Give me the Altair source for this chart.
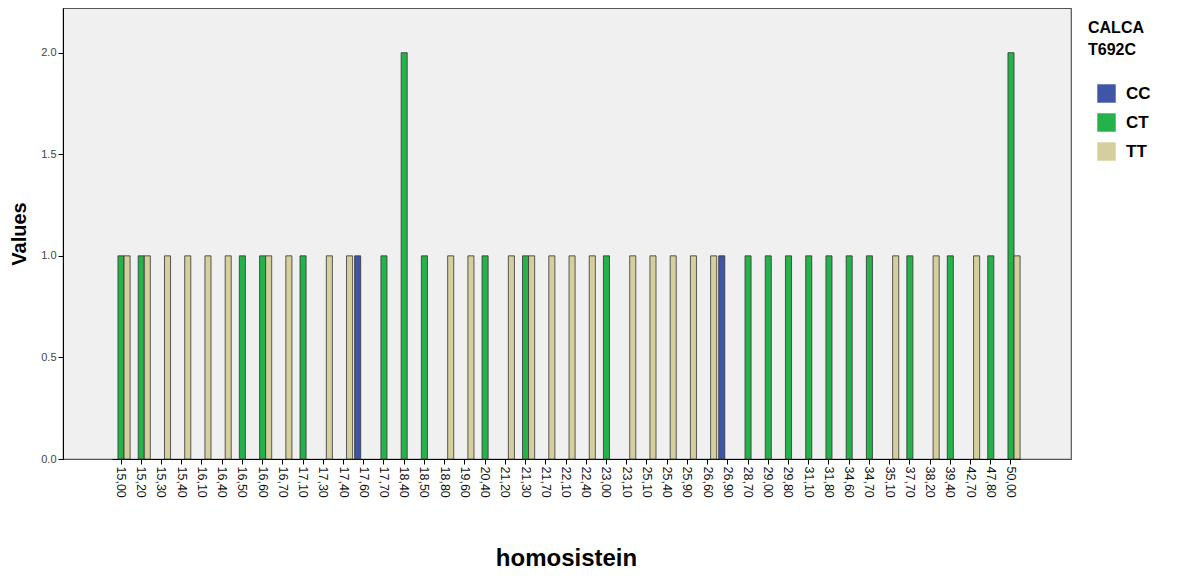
import altair as alt
import pandas as pd

categories = ["15,00", "15,20", "15,30", "15,40", "16,10", "16,40", "16,50", "16,60", "16,70",
              "17,10", "17,30", "17,40", "17,60", "17,70", "18,40", "18,50", "18,80", "19,60",
              "20,40", "21,20", "21,30", "21,70", "22,10", "22,40", "23,00", "23,10", "25,10",
              "25,40", "25,90", "26,60", "26,90", "28,70", "29,00", "29,80", "31,10", "31,80",
              "34,60", "34,70", "35,10", "37,70", "38,20", "39,40", "42,70", "47,80", "50,00"]
cc_vals = [0, 0, 0, 0, 0, 0, 0, 0, 0, 0, 0, 0, 1, 0, 0, 0, 0, 0, 0, 0, 0, 0, 0, 0, 0, 0, 0,
           0, 0, 0, 1, 0, 0, 0, 0, 0, 0, 0, 0, 0, 0, 0, 0, 0, 0]
ct_vals = [1, 1, 0, 0, 0, 0, 1, 1, 0, 1, 0, 0, 0, 1, 2, 1, 0, 0, 1, 0, 1, 0, 0, 0, 1, 0, 0,
           0, 0, 0, 0, 1, 1, 1, 1, 1, 1, 1, 0, 1, 0, 1, 0, 1, 2]
tt_vals = [1, 1, 1, 1, 1, 1, 0, 1, 1, 0, 1, 1, 0, 0, 0, 0, 1, 1, 0, 1, 1, 1, 1, 1, 0, 1, 1,
           1, 1, 1, 0, 0, 0, 0, 0, 0, 0, 0, 1, 0, 1, 0, 1, 0, 1]
groups = ["CC", "CT", "TT"]
colors = ["#3f56a8", "#25b24a", "#d4cf9c"]

rows = []
for g, vals in zip(groups, [cc_vals, ct_vals, tt_vals]):
    for c, v in zip(categories, vals):
        if v > 0:
            rows.append({"homosistein": c, "genotype": g, "value": v})
df = pd.DataFrame(rows)

chart = alt.Chart(df).mark_bar(stroke="#333333", strokeWidth=0.8).encode(
    x=alt.X("homosistein:N", sort=categories,
            scale=alt.Scale(domain=categories, paddingInner=0.1, paddingOuter=0,
                            range=[48.9, 957.1]),
            axis=alt.Axis(title="homosistein", labelAngle=90, labelAlign="left",
                          labelBaseline="middle", labelFontSize=12.5, labelColor="#111111",
                          labelFont="Liberation Sans", titleFont="Liberation Sans",
                          titleFontSize=24, titleFontWeight="bold", titleColor="#000000",
                          titlePadding=49, tickColor="#000000", tickSize=5,
                          domainColor="#000000", labelPadding=2)),
    xOffset=alt.XOffset("genotype:N", scale=alt.Scale(domain=groups, paddingInner=0, paddingOuter=0)),
    y=alt.Y("value:Q", scale=alt.Scale(domain=[0, 2.22], nice=False),
            axis=alt.Axis(title="Values", values=[0, 0.5, 1, 1.5, 2], format=".1f",
                          grid=False, labelFontSize=11, labelColor="#444444",
                          labelFont="Liberation Sans", titleFont="Liberation Sans",
                          titleFontSize=20, titleFontWeight="bold", titleColor="#000000",
                          titlePadding=11, tickColor="#000000", tickSize=5,
                          domainColor="#000000")),
    color=alt.Color("genotype:N", scale=alt.Scale(domain=groups, range=colors),
                    legend=alt.Legend(title=["CALCA", "T692C"], orient="none",
                                      legendX=1025, legendY=12,
                                      titleFont="Liberation Sans", titleFontSize=16,
                                      titleFontWeight="bold", titleColor="#000000",
                                      titlePadding=26, titleLineHeight=22,
                                      labelFont="Liberation Sans", labelFontSize=17,
                                      labelFontWeight="bold", labelColor="#000000",
                                      symbolType="square", symbolSize=340,
                                      symbolOffset=9, symbolStrokeWidth=0,
                                      rowPadding=10, labelOffset=10)),
).properties(
    width=1008, height=451,
    padding={"left": 55, "top": 0, "right": 98, "bottom": 115},
    autosize=alt.AutoSizeParams(type="none"),
    background="white",
).configure_view(
    fill="#f0f0f0", stroke="#555555", strokeWidth=1.2
)

chart.save("out.html", embed_options={"renderer": "svg", "actions": False})
